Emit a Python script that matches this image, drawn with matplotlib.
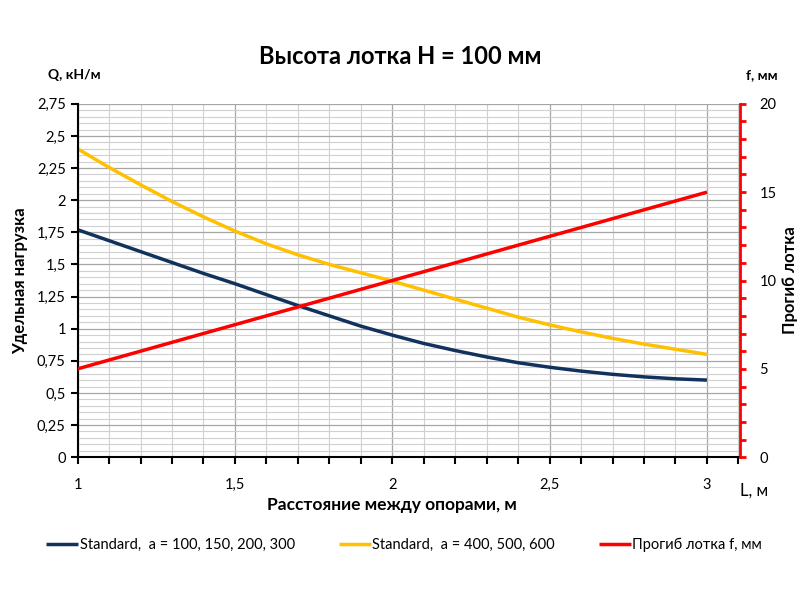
import numpy as np
import matplotlib.pyplot as plt
from matplotlib.ticker import MultipleLocator, FuncFormatter

plt.rcParams['font.family'] = ['Lato', 'DejaVu Sans']

# spans between supports, m
L = [1.0, 1.1, 1.2, 1.3, 1.4, 1.5, 1.6, 1.7, 1.8, 1.9, 2.0,
     2.1, 2.2, 2.3, 2.4, 2.5, 2.6, 2.7, 2.8, 2.9, 3.0]
# specific load, kN/m
q_std_small = [1.77, 1.685, 1.60, 1.515, 1.43, 1.35, 1.265, 1.18, 1.10, 1.02, 0.95,
               0.885, 0.83, 0.78, 0.735, 0.70, 0.67, 0.645, 0.625, 0.61, 0.60]
q_std_large = [2.40, 2.255, 2.12, 1.99, 1.87, 1.76, 1.66, 1.575, 1.50, 1.435, 1.37,
               1.30, 1.23, 1.16, 1.09, 1.03, 0.975, 0.925, 0.88, 0.84, 0.80]
# deflection, mm
L_f = [1.0, 2.0, 3.0]
f_defl = [5.0, 10.0, 15.0]

labels = ["Standard,  a = 100, 150, 200, 300",
          "Standard,  a = 400, 500, 600",
          "Прогиб лотка f, мм"]

comma = FuncFormatter(lambda v, p: ('%g' % v).replace('.', ','))

fig = plt.figure(figsize=(8, 6), dpi=100)
ax = fig.add_axes([0.097, 0.238, 0.828, 0.589])
ax2 = ax.twinx()

l1, = ax.plot(L, q_std_small, color='#12325e', lw=2.5, solid_capstyle='butt')
l2, = ax.plot(L, q_std_large, color='#ffc000', lw=2.5, solid_capstyle='butt')
l3, = ax2.plot(L_f, f_defl, color='#ff0000', lw=2.5, solid_capstyle='butt')

ax.set_xlim(1, 3.105)
ax.set_ylim(0, 2.75)
ax2.set_ylim(0, 20)

ax.xaxis.set_major_locator(MultipleLocator(0.5))
ax.xaxis.set_minor_locator(MultipleLocator(0.1))
ax.yaxis.set_major_locator(MultipleLocator(0.25))
ax.yaxis.set_minor_locator(MultipleLocator(0.05))
ax2.yaxis.set_major_locator(MultipleLocator(5))
ax2.yaxis.set_minor_locator(MultipleLocator(1))
ax.xaxis.set_major_formatter(comma)
ax.yaxis.set_major_formatter(comma)

ax.grid(which='major', color='#a6a6a6', lw=0.9)
ax.grid(which='minor', color='#d0d0d0', lw=0.8)
ax.set_axisbelow(True)

for a in (ax, ax2):
    a.spines['top'].set_visible(False)
ax.spines['right'].set_visible(False)
ax2.spines['left'].set_visible(False)
ax2.spines['bottom'].set_visible(False)
ax2.spines['right'].set_color('#ff0000')
ax2.spines['right'].set_linewidth(2)
ax.spines['left'].set_linewidth(1.5)
ax.spines['bottom'].set_linewidth(1.5)

ax.tick_params(axis='both', which='major', direction='out', length=5, width=1.5, labelsize=10.5)
ax.tick_params(axis='x', which='minor', direction='out', length=5, width=1.5)
ax.tick_params(axis='y', which='minor', length=0)
ax.tick_params(axis='x', pad=10)
ax2.tick_params(axis='y', which='major', direction='out', length=4, width=2, color='#ff0000',
                labelsize=10.5, pad=10)
ax2.tick_params(axis='y', which='minor', direction='out', length=4, width=2, color='#ff0000')

fig.text(0.5, 0.905, "Высота лотка H = 100 мм", ha='center', va='center', fontsize=17, fontweight='bold')
fig.text(0.06, 0.875, "Q, кН/м", ha='left', va='center', fontsize=10, fontweight='bold')
fig.text(0.933, 0.875, "f, мм", ha='left', va='center', fontsize=10, fontweight='bold')
ax.set_ylabel("Удельная нагрузка", fontsize=12, fontweight='bold', labelpad=6)
ax2.set_ylabel("Прогиб лотка", fontsize=12, fontweight='bold', labelpad=4)
fig.text(0.49, 0.158, "Расстояние между опорами, м", ha='center', va='center', fontsize=12.5, fontweight='bold')
fig.text(0.925, 0.183, "L, м", ha='left', va='center', fontsize=12)

fig.legend([l1, l2, l3], labels, loc='center', bbox_to_anchor=(0.505, 0.092), ncol=3,
           frameon=False, fontsize=10.5, handlelength=2.2, handletextpad=0.1, columnspacing=3.0)

fig.savefig('out.png', dpi=100)
